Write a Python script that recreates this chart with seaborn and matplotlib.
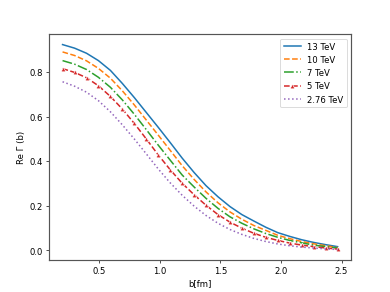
import matplotlib
matplotlib.use("Agg")
import matplotlib.pyplot as plt
import seaborn as sns

# impact parameter b in fm
b_fm = [0.197, 0.296, 0.395, 0.493, 0.592, 0.691, 0.789, 0.888, 0.987, 1.085,
        1.184, 1.283, 1.381, 1.480, 1.579, 1.677, 1.776, 1.875, 1.973, 2.072,
        2.171, 2.269, 2.368, 2.467]

# Re Gamma(b) for each energy
re_13 = [0.924, 0.908, 0.885, 0.852, 0.808, 0.749, 0.686, 0.619, 0.552, 0.484,
         0.414, 0.349, 0.290, 0.240, 0.196, 0.160, 0.131, 0.103, 0.079, 0.062,
         0.047, 0.035, 0.025, 0.016]
re_10 = [0.891, 0.875, 0.851, 0.817, 0.773, 0.716, 0.653, 0.585, 0.517, 0.449,
         0.380, 0.318, 0.262, 0.213, 0.172, 0.139, 0.111, 0.089, 0.067, 0.052,
         0.039, 0.029, 0.020, 0.012]
re_7 = [0.852, 0.836, 0.812, 0.777, 0.732, 0.675, 0.611, 0.542, 0.472, 0.405,
        0.338, 0.284, 0.233, 0.188, 0.150, 0.121, 0.096, 0.075, 0.058, 0.044,
        0.033, 0.023, 0.016, 0.010]
re_5 = [0.816, 0.799, 0.775, 0.739, 0.691, 0.634, 0.570, 0.500, 0.428, 0.362,
        0.301, 0.249, 0.202, 0.160, 0.126, 0.099, 0.076, 0.058, 0.044, 0.032,
        0.023, 0.016, 0.010, 0.005]
re_276 = [0.757, 0.737, 0.710, 0.672, 0.622, 0.563, 0.500, 0.433, 0.365, 0.303,
          0.247, 0.198, 0.156, 0.121, 0.093, 0.071, 0.053, 0.039, 0.028, 0.020,
          0.014, 0.010, 0.006, 0.003]

labels = ["13 TeV", "10 TeV", "7 TeV", "5 TeV", "2.76 TeV"]
series = [re_13, re_10, re_7, re_5, re_276]

# line styles per energy
styles = [dict(linestyle="-"),
          dict(linestyle="--"),
          dict(linestyle="-."),
          dict(linestyle="--", marker="^", markersize=5.5),
          dict(linestyle=":")]
colors = sns.color_palette("tab10", 5)

fig, ax = plt.subplots(figsize=(6.4, 4.8), dpi=61)
for vals, lab, st, col in zip(series, labels, styles, colors):
    sns.lineplot(x=b_fm, y=vals, label=lab, color=col, linewidth=1.8, ax=ax, **st)

for sp in ax.spines.values():
    sp.set_linewidth(1.4)
    sp.set_color("#555555")

ax.set_xlabel("b[fm]")
ax.set_ylabel("Re Γ (b)")
ax.legend(loc="upper right")

fig.savefig("out.png", dpi=61)
